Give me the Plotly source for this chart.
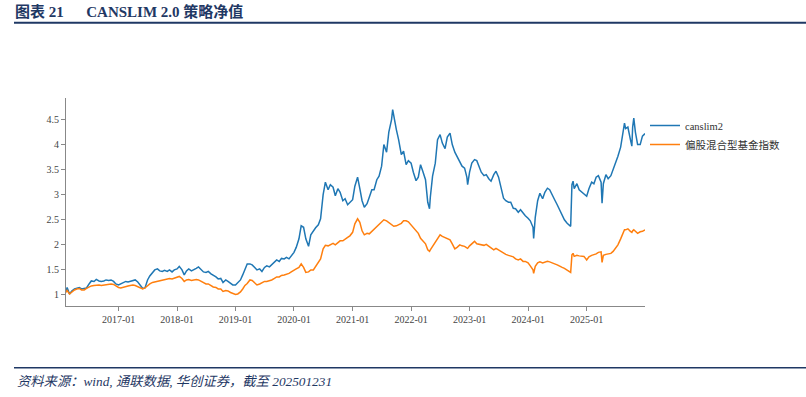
import plotly.graph_objects as go

dates = [
    "2016-02-08", "2016-02-15", "2016-03-01", "2016-03-15", "2016-04-01", "2016-04-15", "2016-05-01", "2016-05-15",
    "2016-06-01", "2016-06-15", "2016-07-01", "2016-07-15", "2016-08-01", "2016-08-15", "2016-09-01", "2016-09-15",
    "2016-10-01", "2016-10-15", "2016-11-01", "2016-11-15", "2016-12-01", "2016-12-15",
    "2017-01-01", "2017-01-15", "2017-02-01", "2017-02-15", "2017-03-01", "2017-03-15", "2017-04-01", "2017-04-15",
    "2017-05-01", "2017-05-15", "2017-06-01", "2017-06-15", "2017-07-01", "2017-07-15", "2017-08-01", "2017-08-15",
    "2017-09-01", "2017-09-15", "2017-10-01", "2017-10-15", "2017-11-01", "2017-11-15", "2017-12-01", "2017-12-15",
    "2018-01-01", "2018-01-15", "2018-02-01", "2018-02-15", "2018-03-01", "2018-03-15", "2018-04-01", "2018-04-15",
    "2018-05-01", "2018-05-15", "2018-06-01", "2018-06-15", "2018-07-01", "2018-07-15", "2018-08-01", "2018-08-15",
    "2018-09-01", "2018-09-15", "2018-10-01", "2018-10-15", "2018-11-01", "2018-11-15", "2018-12-01", "2018-12-15",
    "2019-01-01", "2019-01-15", "2019-02-01", "2019-02-15", "2019-03-01", "2019-03-15", "2019-04-01", "2019-04-15",
    "2019-05-01", "2019-05-15", "2019-06-01", "2019-06-15", "2019-07-01", "2019-07-15", "2019-08-01", "2019-08-15",
    "2019-09-01", "2019-09-15", "2019-10-01", "2019-10-15", "2019-11-01", "2019-11-15", "2019-12-01", "2019-12-15",
    "2020-01-01", "2020-01-15", "2020-02-01", "2020-02-15", "2020-03-01", "2020-03-15", "2020-04-01", "2020-04-15",
    "2020-05-01", "2020-05-15", "2020-06-01", "2020-06-15", "2020-07-01", "2020-07-15", "2020-08-01", "2020-08-15",
    "2020-09-01", "2020-09-15", "2020-10-01", "2020-10-15", "2020-11-01", "2020-11-15", "2020-12-01", "2020-12-15",
    "2021-01-01", "2021-01-15", "2021-02-01", "2021-02-15", "2021-03-01", "2021-03-15", "2021-04-01", "2021-04-15",
    "2021-05-01", "2021-05-15", "2021-06-01", "2021-06-15", "2021-07-01", "2021-07-15", "2021-08-01", "2021-08-15",
    "2021-09-01", "2021-09-08", "2021-09-15", "2021-10-01", "2021-10-15", "2021-11-01", "2021-11-15", "2021-12-01",
    "2021-12-15",
    "2022-01-01", "2022-01-15", "2022-02-01", "2022-02-15", "2022-03-01", "2022-03-15", "2022-04-01", "2022-04-15",
    "2022-04-26", "2022-05-01", "2022-05-15", "2022-06-01", "2022-06-15", "2022-07-01", "2022-07-15", "2022-08-01",
    "2022-08-15", "2022-09-01", "2022-09-15", "2022-10-01", "2022-10-15", "2022-11-01", "2022-11-15", "2022-12-01",
    "2022-12-15", "2022-12-20",
    "2023-01-01", "2023-01-15", "2023-02-01", "2023-02-15", "2023-03-01", "2023-03-15", "2023-04-01", "2023-04-15",
    "2023-05-01", "2023-05-15", "2023-06-01", "2023-06-15", "2023-07-01", "2023-07-15", "2023-08-01", "2023-08-15",
    "2023-09-01", "2023-09-15", "2023-10-01", "2023-10-15", "2023-11-01", "2023-11-15", "2023-12-01", "2023-12-15",
    "2024-01-01", "2024-01-15", "2024-02-01", "2024-02-05", "2024-02-15", "2024-03-01", "2024-03-15", "2024-04-01",
    "2024-04-15", "2024-05-01", "2024-05-15", "2024-06-01", "2024-06-15", "2024-07-01", "2024-07-15", "2024-08-01",
    "2024-08-15", "2024-09-01", "2024-09-15", "2024-09-23", "2024-10-01", "2024-10-08", "2024-10-15", "2024-11-01",
    "2024-11-15", "2024-12-01", "2024-12-15",
    "2025-01-01", "2025-01-15", "2025-02-01", "2025-02-15", "2025-03-01", "2025-03-15", "2025-04-01", "2025-04-07",
    "2025-04-15", "2025-05-01", "2025-05-15", "2025-06-01", "2025-06-15", "2025-07-01", "2025-07-15", "2025-08-01",
    "2025-08-15", "2025-08-25", "2025-09-01", "2025-09-15", "2025-10-01", "2025-10-10", "2025-10-15", "2025-10-22",
    "2025-11-01", "2025-11-15", "2025-12-01", "2025-12-15", "2025-12-31",
]

canslim2 = [
    1.07, 1.15, 1.02, 1.08, 1.12, 1.14, 1.15, 1.12, 1.13, 1.14, 1.22, 1.28, 1.27, 1.31, 1.28, 1.27, 1.28, 1.30, 1.29, 1.30, 1.27, 1.22,
    1.20, 1.22, 1.25, 1.27, 1.26, 1.27, 1.28, 1.30, 1.26, 1.20, 1.13, 1.14, 1.30, 1.38, 1.45, 1.50, 1.52, 1.48, 1.47, 1.49, 1.47, 1.50, 1.46, 1.50,
    1.52, 1.57, 1.50, 1.40, 1.48, 1.52, 1.48, 1.50, 1.53, 1.56, 1.50, 1.46, 1.45, 1.47, 1.42, 1.40, 1.36, 1.32, 1.33, 1.25, 1.30, 1.27, 1.23, 1.20,
    1.20, 1.24, 1.30, 1.40, 1.52, 1.62, 1.62, 1.60, 1.55, 1.50, 1.52, 1.47, 1.55, 1.58, 1.56, 1.60, 1.65, 1.70, 1.67, 1.73, 1.72, 1.75, 1.72, 1.78,
    1.85, 1.95, 2.12, 2.38, 2.35, 2.12, 1.97, 2.20, 2.28, 2.34, 2.40, 2.52, 3.00, 3.25, 3.10, 3.20, 3.15, 2.98, 3.12, 3.05, 2.88, 2.92, 2.80, 2.85,
    2.90, 3.17, 3.35, 3.12, 2.88, 2.75, 2.82, 2.95, 3.10, 3.10, 3.30, 3.37, 3.57, 4.00, 3.85, 4.25, 4.50, 4.70, 4.55, 4.30, 4.10, 3.80, 3.87, 3.60, 3.68,
    3.63, 3.45, 3.28, 3.35, 3.60, 3.47, 3.30, 2.85, 2.72, 2.95, 3.37, 3.63, 4.10, 4.20, 4.03, 3.92, 4.15, 4.23, 4.00, 3.85, 3.77, 3.67, 3.57, 3.53, 3.35, 3.20,
    3.45, 3.63, 3.70, 3.68, 3.57, 3.45, 3.38, 3.40, 3.32, 3.27, 3.40, 3.47, 3.35, 3.15, 2.93, 2.88, 2.85, 2.85, 2.73, 2.72, 2.65, 2.70, 2.63, 2.58,
    2.53, 2.48, 2.35, 2.13, 2.55, 2.88, 3.03, 2.92, 3.05, 3.13, 3.10, 2.97, 2.90, 2.80, 2.70, 2.58, 2.50, 2.43, 2.38, 2.37, 3.20, 3.27, 3.12, 3.22, 3.10, 3.05, 3.02,
    2.97, 3.12, 3.25, 3.22, 3.35, 3.38, 3.25, 2.83, 3.22, 3.40, 3.32, 3.38, 3.50, 3.65, 3.77, 3.95, 4.20, 4.43, 4.32, 4.35, 4.10, 3.97, 4.35, 4.53, 4.25, 4.00, 4.00, 4.17, 4.22,
]

fund_index = [
    1.05, 1.09, 1.02, 1.06, 1.10, 1.12, 1.13, 1.10, 1.10, 1.13, 1.16, 1.18, 1.19, 1.20, 1.20, 1.19, 1.20, 1.21, 1.21, 1.22, 1.21, 1.18,
    1.15, 1.14, 1.16, 1.17, 1.18, 1.19, 1.20, 1.19, 1.17, 1.15, 1.12, 1.14, 1.19, 1.22, 1.25, 1.26, 1.27, 1.28, 1.29, 1.31, 1.32, 1.33, 1.32, 1.34,
    1.35, 1.37, 1.33, 1.27, 1.30, 1.31, 1.29, 1.30, 1.31, 1.30, 1.27, 1.25, 1.22, 1.22, 1.19, 1.16, 1.15, 1.12, 1.12, 1.07, 1.09, 1.08, 1.05, 1.03,
    1.01, 1.02, 1.06, 1.12, 1.19, 1.23, 1.30, 1.29, 1.24, 1.20, 1.22, 1.24, 1.27, 1.27, 1.28, 1.30, 1.33, 1.36, 1.36, 1.39, 1.40, 1.41, 1.43, 1.46,
    1.50, 1.52, 1.55, 1.62, 1.55, 1.45, 1.46, 1.50, 1.50, 1.57, 1.63, 1.72, 1.92, 1.99, 1.98, 2.00, 2.03, 2.00, 2.05, 2.08, 2.08, 2.12, 2.15, 2.18,
    2.25, 2.42, 2.52, 2.45, 2.28, 2.20, 2.23, 2.22, 2.27, 2.30, 2.36, 2.40, 2.46, 2.50, 2.48, 2.45, 2.40, 2.40, 2.37, 2.38, 2.40, 2.43, 2.48, 2.48, 2.46,
    2.40, 2.33, 2.27, 2.23, 2.13, 2.08, 2.02, 1.90, 1.87, 1.90, 1.97, 2.03, 2.12, 2.20, 2.17, 2.14, 2.13, 2.10, 2.02, 1.92, 1.95, 2.00, 1.98, 1.97, 1.94, 1.93,
    1.98, 2.03, 2.07, 2.02, 2.01, 2.01, 1.99, 2.01, 1.97, 1.93, 1.90, 1.93, 1.90, 1.87, 1.83, 1.81, 1.79, 1.77, 1.76, 1.72, 1.70, 1.72, 1.67, 1.67,
    1.64, 1.58, 1.50, 1.43, 1.57, 1.64, 1.66, 1.64, 1.66, 1.67, 1.66, 1.63, 1.62, 1.60, 1.57, 1.55, 1.53, 1.50, 1.46, 1.45, 1.80, 1.83, 1.77, 1.79, 1.78, 1.77, 1.77,
    1.70, 1.76, 1.79, 1.80, 1.82, 1.85, 1.86, 1.65, 1.79, 1.81, 1.82, 1.83, 1.87, 1.93, 2.00, 2.12, 2.22, 2.30, 2.30, 2.32, 2.27, 2.25, 2.28, 2.30, 2.27, 2.23, 2.26, 2.27, 2.30,
]

series_names = ["canslim2", "偏股混合型基金指数"]
series_colors = ["#1f77b4", "#ff7f0e"]
y_tickvals = [1, 1.5, 2, 2.5, 3, 3.5, 4, 4.5]
y_ticktext = ["1", "1.5", "2", "2.5", "3", "3.5", "4", "4.5"]

title_text = "<b>图表 21\u00a0\u00a0\u00a0\u00a0\u00a0\u00a0CANSLIM 2.0 策略净值</b>"
source_text = "<i>资料来源：wind, 通联数据, 华创证券，截至 202501231</i>"

assert len(dates) == len(canslim2) == len(fund_index), (len(dates), len(canslim2), len(fund_index))

SERIF = "Liberation Serif, Times New Roman, Noto Sans CJK SC, serif"
NAVY = "#1F3864"

fig = go.Figure()
for name, vals, col in zip(series_names, [canslim2, fund_index], series_colors):
    fig.add_trace(go.Scatter(x=dates, y=vals, mode="lines", name=name,
                             line=dict(color=col, width=1.5)))

W, H = 806, 397
ml, mr, mt, mb = 66, 161, 98, 91
pw, ph = W - ml - mr, H - mt - mb

def px_x(x):
    return (x - ml) / pw

def px_y(y):
    return (H - mb - y) / ph

fig.update_layout(
    width=W, height=H,
    margin=dict(l=ml, r=mr, t=mt, b=mb, pad=0),
    paper_bgcolor="white", plot_bgcolor="white",
    showlegend=True,
    legend=dict(x=1.0, xanchor="left", y=px_y(111), yanchor="top",
                font=dict(family=SERIF, size=10.5, color="#333333"),
                bgcolor="rgba(0,0,0,0)", itemwidth=30, tracegroupgap=0),
    title=dict(text=title_text, x=15 / W, xanchor="left", xref="container",
               y=1 - 12 / H, yanchor="middle", yref="container",
               font=dict(family=SERIF, size=15, color=NAVY)),
    xaxis=dict(type="date", tick0="2017-01-01", dtick="M12", tickformat="%Y-%m",
               showgrid=False, zeroline=False, showline=True, linecolor="#888888", linewidth=1,
               ticks="outside", ticklen=4, tickcolor="#888888",
               tickfont=dict(family=SERIF, size=10, color="#444444")),
    yaxis=dict(range=[0.78, 4.93], tickvals=y_tickvals, ticktext=y_ticktext,
               showgrid=False, zeroline=False, showline=True, linecolor="#888888", linewidth=1,
               ticks="outside", ticklen=4, tickcolor="#888888",
               tickfont=dict(family=SERIF, size=10, color="#444444")),
    shapes=[
        dict(type="line", xref="paper", yref="paper", x0=px_x(14), x1=px_x(806),
             y0=px_y(22.7), y1=px_y(22.7), line=dict(color=NAVY, width=2)),
        dict(type="line", xref="paper", yref="paper", x0=px_x(14), x1=px_x(806),
             y0=px_y(367.7), y1=px_y(367.7), line=dict(color=NAVY, width=1.5)),
    ],
    annotations=[
        dict(text=source_text, xref="paper", yref="paper", x=px_x(15), y=px_y(381),
             xanchor="left", yanchor="middle", showarrow=False,
             font=dict(family=SERIF, size=13.3, color=NAVY)),
    ],
)

fig.write_html("out.html", config={"displayModeBar": False},
               post_script="document.body.style.margin='0';document.body.style.overflow='hidden';")
